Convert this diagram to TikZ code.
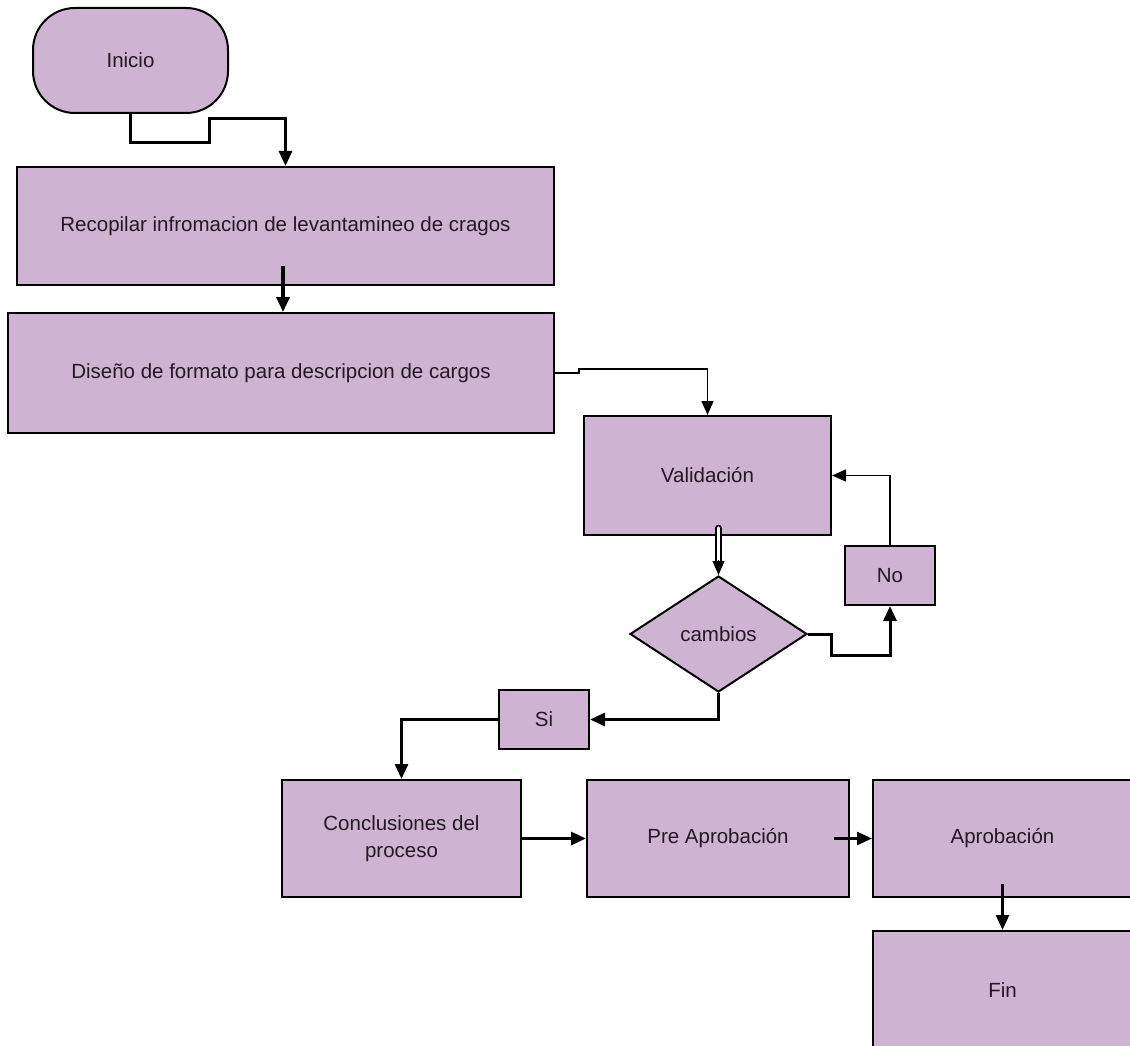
\documentclass[tikz,border=0pt]{standalone}
\usepackage{fontspec}
\setmainfont{Liberation Sans}
\usetikzlibrary{shapes.geometric,arrows.meta}
\definecolor{boxfill}{RGB}{206,180,210}
\definecolor{txt}{RGB}{35,24,35}
\begin{document}
\begin{tikzpicture}[x=1pt,y=-1pt,
  every node/.style={font=\fontsize{20.5}{27}\selectfont, text=txt},
  box/.style={draw=black, line width=2pt, fill=boxfill, inner sep=0pt, align=center},
  decision/.style={diamond, draw=black, line width=2pt, fill=boxfill, inner sep=0pt},
  thk/.style={draw=black, line width=3pt, -{Triangle[width=13pt,length=15pt]}},
  thn/.style={draw=black, line width=1.5pt, -{Triangle[width=12pt,length=14pt]}}
]
\useasboundingbox (0,0) rectangle (1130,1046);
\clip (0,0) rectangle (1130,1046);

% nodes
\node[box, rounded corners=42pt, minimum width=195pt, minimum height=105pt] (inicio) at (130.5,60.5) {Inicio};
\node[box, minimum width=537pt, minimum height=118pt] (rec) at (285.5,226) {Recopilar infromacion de levantamineo de cragos};
\node[box, minimum width=546pt, minimum height=120pt] (dis) at (281,373) {Diseño de formato para descripcion de cargos};
\node[box, minimum width=247pt, minimum height=119pt] (val) at (707.5,475.5) {Validación};
\node[decision, minimum width=177pt, minimum height=116pt] (cam) at (718.5,634) {cambios};
\node[box, minimum width=90pt, minimum height=59pt] (no) at (890,575.5) {No};
\node[box, minimum width=90pt, minimum height=59pt] (si) at (544,719.5) {Si};
\node[box, minimum width=239pt, minimum height=117pt] (con) at (401.5,838.5) {Conclusiones del\\proceso};
\node[box, minimum width=262pt, minimum height=117pt] (pre) at (718,838.5) {Pre Aprobación};
\node[box, minimum width=259pt, minimum height=117pt] (apr) at (1002.5,838.5) {Aprobación};
\node[box, minimum width=259pt, minimum height=119pt] (fin) at (1002.5,990.5) {Fin};

% connectors
\draw[thk] (inicio.south) -- ++(0,29) -| (209,119) -| (rec.north);
\draw[thk, line width=3.5pt] ([xshift=-2.5pt,yshift=20pt]rec.south) -- ([xshift=-2.5pt]rec.south |- dis.north);
\draw[thn] (dis.east) -- ++(24,0) -- ++(0,-4) -| (val.north);
\draw[line width=1.6pt, double=white, double distance=3.5pt, line cap=round]
  ([yshift=8pt]val.south -| cam.north) -- ([yshift=14pt]cam.north);
\draw[thn, line width=1pt] ([yshift=15pt]cam.north) -- (cam.north);
\draw[thk] (cam.east) -- ++(23,0) -- ++(0,21) -| (no.south);
\draw[thn] (no.north) |- (val.east);
\draw[thk] (cam.south) |- (si.east);
\draw[thk] (si.west) -| (con.north);
\draw[thk] (con.east) -- (pre.west);
\draw[thk, line width=2.5pt] ([xshift=-16pt]pre.east) -- (apr.west);
\draw[thk, line width=2.5pt] ([yshift=14pt]apr.south) -- (fin.north);
\end{tikzpicture}
\end{document}
